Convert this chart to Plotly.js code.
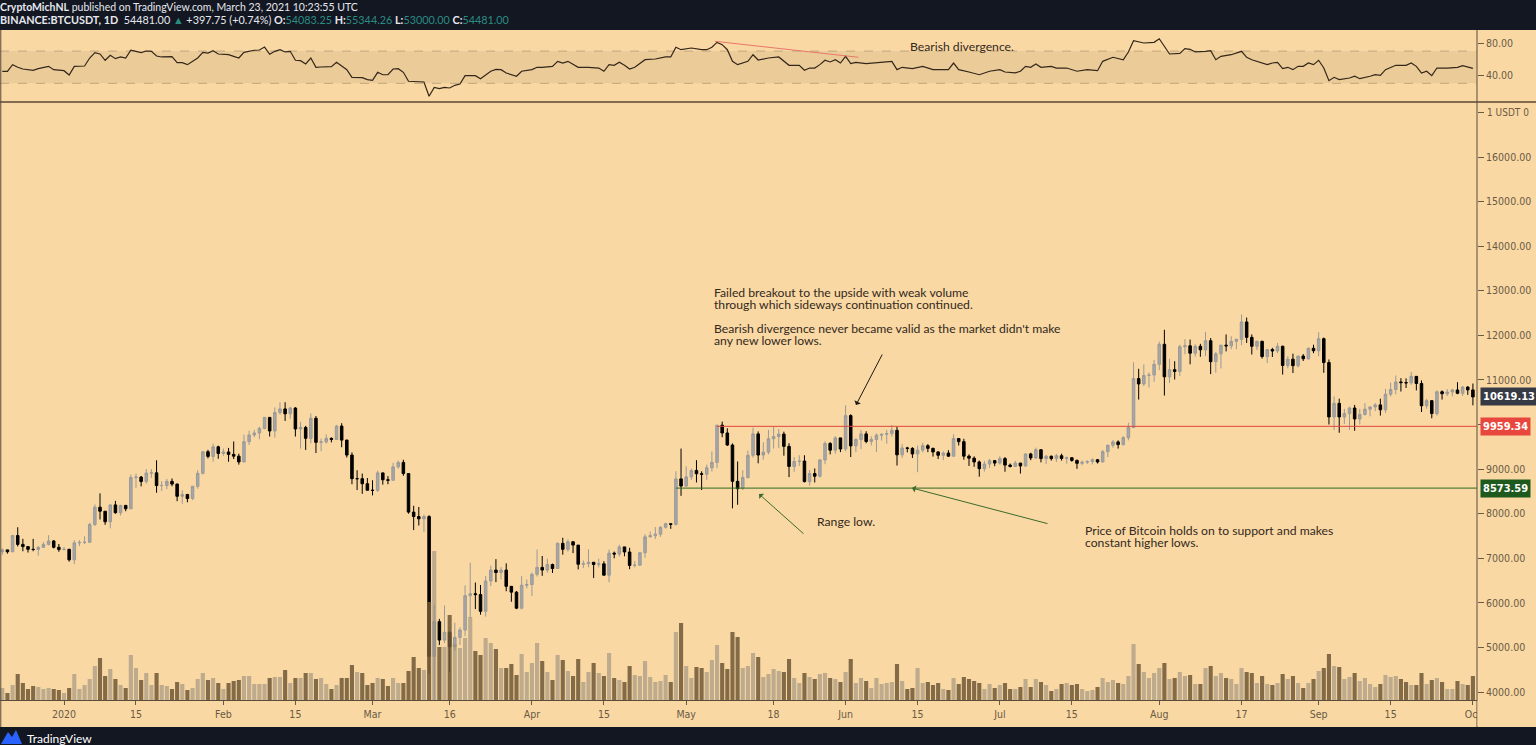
<!DOCTYPE html>
<html><head><meta charset="utf-8">
<script src="https://cdn.plot.ly/plotly-3.0.1.min.js"></script>
<style>html,body{margin:0;padding:0;background:#131722;overflow:hidden}#chart{width:1536px;height:745px}</style>
</head><body><div id="chart"></div>
<script>
// ---- Daily candles, BINANCE:BTCUSDT, rows are [open, high, low, close] ----
const dec2019 = [[7145,7220,7075,7188],[7188,7190,7105,7146],[7146,7518,7134,7510],[7510,7695,7265,7311],[7311,7436,7157,7262],[7262,7272,7128,7200],[7200,7435,7157,7197],[7197,7275,7057,7243],[7243,7365,7238,7310],[7310,7518,7288,7388],[7388,7409,7220,7246],[7246,7320,7145,7195]];
const jan2020 = [[7195,7255,7175,7200],[7200,7212,6925,6965],[6965,7406,6871,7345],[7345,7405,7273,7355],[7355,7495,7318,7358],[7358,7796,7346,7758],[7758,8208,7723,8145],[8145,8455,7870,8055],[8055,8055,7750,7818],[7818,8199,7672,8197],[8197,8287,8000,8021],[8021,8198,7960,8185],[8185,8197,8055,8110],[8110,8880,8105,8810],[8810,8900,8580,8821],[8821,8846,8612,8720],[8720,9000,8675,8913],[8913,9000,8805,8916],[8916,9198,8470,8630],[8630,8730,8510,8633],[8633,8780,8550,8725],[8725,8790,8615,8664],[8664,8674,8280,8390],[8390,8525,8220,8430],[8430,8444,8255,8340],[8340,8617,8305,8615],[8615,8975,8560,8905],[8905,9395,8880,9390],[9390,9432,9240,9285],[9285,9570,9165,9500],[9500,9525,9230,9350]];
const feb2020 = [[9350,9460,9300,9384],[9384,9475,9165,9330],[9330,9620,9225,9290],[9290,9345,9100,9160],[9160,9775,9155,9615],[9615,9860,9540,9765],[9765,9880,9715,9810],[9810,9950,9670,9910],[9910,10160,9895,10160],[10160,10165,9730,9855],[9855,10385,9705,10270],[10270,10495,10220,10350],[10350,10500,10080,10240],[10240,10395,10130,10370],[10370,10390,9730,9900],[9900,10060,9460,9935],[9935,9970,9430,9690],[9690,10250,9575,10140],[10140,10190,9360,9600],[9600,9685,9400,9610],[9610,9780,9570,9690],[9690,9710,9600,9665],[9665,9990,9660,9965],[9965,10030,9490,9650],[9650,9660,9260,9315],[9315,9375,8660,8785],[8785,8975,8530,8785],[8785,8900,8445,8672],[8672,8800,8525,8525]];
const mar2020 = [[8525,8750,8410,8523],[8523,8965,8490,8915],[8915,8920,8651,8760],[8760,8843,8660,8750],[8750,9142,8743,9050],[9050,9190,9008,9150],[9150,9210,8850,8900],[8900,8900,8000,8035],[8035,8178,7632,7935],[7935,8150,7735,7885],[7885,7980,7590,7935],[7935,7966,4410,4800],[4800,5955,3782,5578],[5578,5640,5055,5165],[5165,5940,5100,5340],[5340,5365,4442,5015],[5015,5555,4920,5225],[5225,5450,5055,5390],[5390,6390,5250,6160],[6160,6900,5670,6205],[6205,6455,5860,6185],[6185,6400,5735,5810],[5810,6600,5690,6490],[6490,6835,6375,6735],[6735,6980,6465,6680],[6680,6800,6525,6735],[6735,6885,6260,6370],[6370,6375,6025,6240],[6240,6265,5860,5880],[5880,6600,5855,6395],[6395,6525,6325,6410]];
const apr2020 = [[6410,6680,6155,6640],[6640,7195,6590,6795],[6795,7050,6605,6735],[6735,6990,6675,6860],[6860,6880,6670,6770],[6770,7355,6765,7335],[7335,7460,7080,7200],[7200,7425,7150,7370],[7370,7378,7115,7295],[7295,7295,6750,6865],[6865,6950,6780,6880],[6880,7200,6800,6910],[6910,6915,6555,6860],[6860,6990,6795,6875],[6875,6935,6620,6620],[6620,7195,6460,7115],[7115,7150,7000,7095],[7095,7305,7040,7255],[7255,7255,7045,7140],[7140,7235,6755,6840],[6840,6940,6795,6845],[6845,7145,6830,7125],[7125,7540,7010,7480],[7480,7600,7470,7505],[7505,7700,7430,7540],[7540,7720,7480,7695],[7695,7795,7665,7775],[7775,7780,7660,7760],[7760,8950,7735,8780],[8780,9460,8400,8620]];
const may2020 = [[8620,9060,8600,8825],[8825,9010,8760,8970],[8970,9200,8700,8895],[8895,8950,8530,8885],[8885,9100,8760,9030],[9030,9395,8945,9150],[9150,9990,9020,9985],[9985,10065,9715,9810],[9810,9915,9520,9540],[9540,9575,8120,8725],[8725,9170,8200,8560],[8560,8975,8535,8810],[8810,9415,8790,9310],[9310,9930,9255,9790],[9790,9845,9130,9315],[9315,9600,9210,9380],[9380,9880,9330,9680],[9680,9950,9460,9730],[9730,9900,9470,9785],[9785,9840,9300,9510],[9510,9580,8820,9060],[9060,9270,8940,9170],[9170,9310,9070,9180],[9180,9310,8700,8720],[8720,8980,8630,8900],[8900,9015,8700,8840],[8840,9225,8810,9205],[9205,9625,9110,9575],[9575,9605,9330,9425],[9425,9740,9345,9700],[9700,9700,9380,9450]];
const jun2020 = [[9450,10430,9400,10200],[10200,10230,9270,9520],[9520,9690,9380,9665],[9665,9880,9450,9790],[9790,9850,9580,9620],[9620,9735,9530,9665],[9665,9800,9380,9760],[9760,9800,9640,9780],[9780,9880,9570,9795],[9795,9990,9725,9870],[9870,9950,9080,9320],[9320,9560,9250,9475],[9475,9500,9375,9465],[9465,9490,9250,9340],[9340,9530,8930,9425],[9425,9590,9375,9525],[9525,9560,9380,9465],[9465,9480,9280,9385],[9385,9400,9225,9310],[9310,9400,9200,9360],[9360,9425,9275,9290],[9290,9780,9280,9685],[9685,9690,9530,9615],[9615,9680,9210,9290],[9290,9330,9070,9245],[9245,9285,9050,9160],[9160,9190,8830,9010],[9010,9185,8945,9115],[9115,9230,9025,9190],[9190,9205,9065,9135]];
const jul2020 = [[9135,9290,9100,9235],[9235,9270,8940,9090],[9090,9125,9035,9060],[9060,9185,9050,9135],[9135,9140,8900,9070],[9070,9350,9055,9340],[9340,9365,9200,9250],[9250,9480,9230,9435],[9435,9440,9150,9235],[9235,9315,9115,9290],[9290,9300,9190,9235],[9235,9340,9160,9300],[9300,9345,9190,9240],[9240,9280,9120,9255],[9255,9270,9165,9195],[9195,9215,9005,9130],[9130,9190,9085,9155],[9155,9200,9115,9170],[9170,9240,9105,9210],[9210,9225,9125,9160],[9160,9430,9150,9390],[9390,9550,9270,9535],[9535,9650,9480,9610],[9610,9645,9460,9550],[9550,9740,9530,9705],[9705,10040,9645,9935],[9935,11395,9920,11030],[11030,11250,10560,10910],[10910,11350,10860,11100],[11100,11170,10830,11110],[11110,11450,10960,11350]];
const aug2020 = [[11350,11860,11220,11800],[11800,12125,10650,11070],[11070,11475,10930,11230],[11230,11420,11010,11190],[11190,11790,11090,11745],[11745,11915,11575,11765],[11765,11905,11350,11600],[11600,11800,11520,11755],[11755,11810,11520,11675],[11675,12080,11535,11880],[11880,11940,11130,11410],[11410,11630,11165,11585],[11585,11780,11255,11780],[11780,12020,11640,11765],[11765,11980,11690,11865],[11865,11930,11690,11910],[11910,12470,11780,12300],[12300,12400,11830,11955],[11955,12020,11570,11755],[11755,11880,11670,11865],[11865,11880,11480,11525],[11525,11690,11380,11680],[11680,11720,11515,11650],[11650,11830,11600,11755],[11755,11770,11120,11325],[11325,11530,11260,11465],[11465,11590,11155,11320],[11320,11545,11280,11535],[11535,11580,11425,11475],[11475,11725,11455,11710],[11710,11790,11600,11655]];
const sep2020 = [[11655,12070,11530,11925],[11925,11950,11160,11390],[11390,11460,10000,10170],[10170,10630,9875,10475],[10475,10580,9815,10170],[10170,10350,10010,10245],[10245,10400,9880,10370],[10370,10440,9860,10125],[10125,10350,10000,10225],[10225,10480,10200,10345],[10345,10400,10185,10395],[10395,10480,10300,10440],[10440,10580,10200,10330],[10330,10800,10260,10680],[10680,10940,10630,10785],[10785,11100,10680,10955],[10955,11040,10740,10940],[10940,11035,10820,10935],[10935,11180,10890,11080],[11080,11080,10765,10920],[10920,10990,10280,10420],[10420,10575,10355,10535],[10535,10550,10140,10245],[10245,10770,10200,10735],[10735,10765,10560,10690],[10690,10795,10640,10730],[10730,10800,10630,10775],[10775,10950,10680,10700],[10700,10865,10640,10840],[10840,10860,10665,10776]];
const oct2020 = [[10776,10920,10430,10619]];

// ---- Volume (bar heights as read, relative units), one value per day, same order ----
const volDec2019 = [12,7,15,26,17,11,14,13,11,12,11,10];
const volJan2020 = [7,12,26,11,15,21,34,42,24,31,21,15,12,45,32,20,27,15,27,15,14,11,18,16,10,12,21,27,20,22,17];
const volFeb2020 = [11,17,19,20,24,24,16,16,16,22,23,23,30,17,22,22,27,27,21,22,16,11,15,22,22,35,28,27,15];
const volMar2020 = [17,22,21,14,22,17,17,29,43,32,30,98,149,53,53,85,56,52,62,83,49,45,62,57,51,32,32,36,25,46,28];
const volApr2020 = [37,57,39,28,20,45,40,29,24,41,18,28,37,27,24,47,22,20,18,34,25,24,39,23,18,19,25,18,68,77];
const volMay2020 = [34,22,33,32,28,40,55,37,31,68,63,32,34,47,43,23,26,31,29,28,41,22,17,27,23,21,26,27,22,21,18];
const volJun2020 = [28,41,17,22,19,12,22,16,17,18,36,19,11,12,32,17,18,15,17,11,10,22,16,23,21,19,17,11,16,12];
const volJul2020 = [15,17,11,11,13,21,13,21,18,15,9,11,16,17,15,16,11,9,10,13,22,18,20,17,16,24,56,36,28,22,27];
const volAug2020 = [32,37,21,22,28,24,25,16,16,32,34,24,27,22,21,16,32,28,27,17,24,16,15,17,26,21,24,17,12,17,21];
const volSep2020 = [29,32,46,34,33,21,23,27,19,22,16,13,16,25,23,24,21,18,15,15,27,16,20,22,18,11,11,19,16,15];
const volOct2020 = [24];

// ---- RSI readings: [day index from 2019-12-20, value] ----
const rsiReadings = [[0,44.9],[1,44.9],[2,53.2],[3,49.9],[4,47.8],[6,46.2],[7,48.2],[9,51.1],[10,47],[12,45.7],[13,40.4],[14,51.1],[16,51.5],[17,61.4],[18,68],[19,66.4],[20,58.6],[21,64.7],[22,60.6],[23,62.7],[24,61.4],[25,71],[26,69.7],[27,68],[28,70.1],[29,69.7],[30,63.9],[31,62.7],[33,63],[34,55.6],[35,55.6],[36,53.2],[38,61.4],[39,68.4],[40,67.6],[41,70.5],[42,66.4],[44,65.5],[45,63.5],[46,61.4],[47,68.4],[49,71],[50,71.3],[51,75],[52,66],[53,69.7],[54,71.7],[55,68.9],[56,69.7],[57,58.6],[58,58.1],[59,54],[60,61.4],[61,49.9],[62,50.3],[64,50.7],[65,56.1],[67,47],[68,37.5],[70,37],[71,34.6],[72,33.8],[73,43.7],[74,40.7],[75,40.7],[76,47.8],[77,48.2],[78,43.7],[79,32.6],[81,31.7],[82,31.7],[83,14],[84,25.1],[85,23.4],[86,25.1],[87,24.3],[88,27.6],[89,29.2],[90,39.5],[92,39.5],[93,35.8],[95,45],[96,47.4],[97,47],[98,42.8],[100,38.8],[101,45],[103,47],[104,49.9],[105,49.9],[107,51.1],[108,57.3],[109,55.2],[110,57.3],[112,49.9],[114,49.9],[116,49],[117,45],[118,53.2],[119,52.4],[120,56.1],[121,52.4],[122,47.8],[123,49.9],[125,59.3],[127,60.2],[129,62.7],[130,62.7],[131,74.7],[132,71.7],[134,73.8],[136,71.7],[137,71.7],[138,74.7],[139,80.8],[140,77.9],[141,71.7],[142,57.3],[143,53.2],[145,57.3],[146,65.5],[147,58.9],[149,61.4],[151,62.7],[152,57.3],[153,52.4],[155,52.4],[156,46.2],[157,49],[158,49],[159,53.2],[160,58.6],[161,56.5],[162,59.3],[163,55.2],[164,63.5],[165,54.4],[166,56.1],[168,54.4],[171,56.1],[173,57.3],[174,47],[175,49.9],[177,48.2],[179,51.1],[181,47],[184,47],[185,55.2],[186,47],[188,44.1],[190,40.7],[192,45],[193,45.7],[194,47],[195,44.1],[197,43],[198,45],[199,51.1],[200,49.9],[201,54],[202,49.9],[204,51.1],[205,49],[207,49],[209,45],[211,47],[213,45.7],[214,57.3],[216,62.3],[218,59.3],[219,68.9],[220,82.9],[222,80],[224,80.8],[225,85.3],[227,66.4],[229,67.2],[230,73],[231,72.2],[232,68.9],[234,69.7],[235,70.5],[236,59.3],[237,63.5],[239,65.5],[241,69.7],[242,62.3],[243,59.3],[246,53.2],[247,55.2],[248,56.1],[249,48.2],[250,49.9],[251,47],[252,51.1],[253,51.1],[254,55.2],[255,53.2],[256,58.6],[257,49],[258,33.3],[259,37.5],[260,34.6],[262,36.6],[263,38.8],[264,35.8],[266,38.8],[267,40.7],[268,39.9],[269,47],[271,52.4],[273,52.4],[274,55.2],[275,51.1],[276,42.8],[277,45],[278,39.5],[279,49],[281,49],[283,49.9],[284,51.9],[286,48.5]];

// ---- Levels, divergence and labels ----
const rangeHigh = 9959.34, rangeHighStartDay = 139;
const rangeLow = 8573.59, rangeLowStartDay = 131;
const lastPrice = 10619.13;
const divergence = [[138.6, 82.1],[166.5, 62.3]];
const xTickDates = ['2020-01-01','2020-01-15','2020-02-01','2020-02-15','2020-03-01','2020-03-16','2020-04-01','2020-04-15','2020-05-01','2020-05-18','2020-06-01','2020-06-15','2020-07-01','2020-07-15','2020-08-01','2020-08-17','2020-09-01','2020-09-15','2020-10-01'];
const xTickText = ['2020','15','Feb','15','Mar','16','Apr','15','May','18','Jun','15','Jul','15','Aug','17','Sep','15','Oct'];
const priceTicks = [4000,5000,6000,7000,8000,9000,10000,11000,12000,13000,14000,15000,16000,17000];
const hiddenPriceTicks = [10000, 17000];   // covered by labels in the reference
const rsiTicks = [40, 80];

// ---- build ----
const DAY = 86400000, T0 = Date.UTC(2019, 11, 20);
const dstr = f => new Date(T0 + f * DAY).toISOString().replace('T', ' ').slice(0, 19);
const rows = [].concat(dec2019, jan2020, feb2020, mar2020, apr2020, may2020, jun2020, jul2020, aug2020, sep2020, oct2020);
const vols = [].concat(volDec2019, volJan2020, volFeb2020, volMar2020, volApr2020, volMay2020, volJun2020, volJul2020, volAug2020, volSep2020, volOct2020);
const dates = rows.map((r, i) => dstr(i).slice(0, 10));

const W = 1536, H = 745, AX = 1477;
const px = x => x / W, py = y => 1 - y / H;
const xStart = dstr(-2.3 / 5.142), xEnd = dstr((AX - 2.3) / 5.142);

const BG = '#f9d8a3', TXT = '#34291d', AXT = '#6a5a45';
const FONT = 'Lato, "Open Sans", sans-serif';
const AXFONT = '"DejaVu Sans Condensed", "Liberation Sans Narrow", Lato, sans-serif';

const candles = {
  type: 'candlestick', x: dates,
  open: rows.map(r => r[0]), high: rows.map(r => r[1]), low: rows.map(r => r[2]), close: rows.map(r => r[3]),
  xaxis: 'x', yaxis: 'y', whiskerwidth: 0,
  increasing: {line: {color: '#9a9a9a', width: 1}, fillcolor: '#a6a6a6'},
  decreasing: {line: {color: '#000000', width: 1}, fillcolor: '#000000'},
  hoverinfo: 'skip'
};
const volume = {
  type: 'bar', x: dates, y: vols, xaxis: 'x', yaxis: 'y2',
  marker: {color: rows.map(r => r[3] >= r[0] ? 'rgba(150,140,125,0.6)' : 'rgba(110,88,55,0.85)'), line: {width: 0}},
  hoverinfo: 'skip'
};
const rsi = {
  type: 'scatter', mode: 'lines', x: rsiReadings.map(p => dstr(p[0])), y: rsiReadings.map(p => p[1]),
  xaxis: 'x', yaxis: 'y3', line: {color: '#33261a', width: 1.2}, hoverinfo: 'skip'
};

const shapes = [
  {type: 'rect', xref: 'paper', yref: 'paper', x0: 0, x1: 1, y0: py(727), y1: py(30), fillcolor: BG, line: {width: 0}, layer: 'below'},
  {type: 'rect', xref: 'paper', yref: 'y3', x0: 0, x1: px(AX), y0: 30, y1: 70, fillcolor: 'rgba(150,120,90,0.13)', line: {width: 0}, layer: 'below'},
  {type: 'line', xref: 'paper', yref: 'y3', x0: 0, x1: px(AX), y0: 70, y1: 70, line: {color: 'rgba(140,115,90,0.45)', width: 1, dash: 'dash'}, layer: 'below'},
  {type: 'line', xref: 'paper', yref: 'y3', x0: 0, x1: px(AX), y0: 30, y1: 30, line: {color: 'rgba(140,115,90,0.45)', width: 1, dash: 'dash'}, layer: 'below'},
  {type: 'line', xref: 'paper', yref: 'paper', x0: 0, x1: 1, y0: py(102), y1: py(102), line: {color: '#5a4732', width: 1.5}},
  {type: 'line', xref: 'paper', yref: 'paper', x0: px(AX), x1: px(AX), y0: py(727), y1: py(30), line: {color: '#5a4c3c', width: 1}},
  {type: 'line', xref: 'paper', yref: 'paper', x0: 0.0005, x1: 0.0005, y0: py(727), y1: py(30), line: {color: '#5a4c3c', width: 1}},
  {type: 'line', xref: 'x', yref: 'y3', x0: dstr(divergence[0][0]), y0: divergence[0][1], x1: dstr(divergence[1][0]), y1: divergence[1][1], line: {color: '#e8776a', width: 1}},
  {type: 'line', xref: 'x', yref: 'y', x0: dstr(rangeHighStartDay), x1: xEnd, y0: rangeHigh, y1: rangeHigh, line: {color: '#e0463c', width: 1}},
  {type: 'line', xref: 'x', yref: 'y', x0: dstr(rangeLowStartDay), x1: xEnd, y0: rangeLow, y1: rangeLow, line: {color: '#2f6b1f', width: 1}},
  {type: 'rect', xref: 'paper', yref: 'paper', x0: px(AX + 0.5), x1: 1, y0: py(726), y1: py(701), fillcolor: BG, line: {width: 0}, layer: 'above'},
  {type: 'path', xref: 'paper', yref: 'paper', fillcolor: '#2962ff', line: {width: 0},
   path: `M ${px(1)},${py(744)} L ${px(8)},${py(732)} L ${px(12)},${py(737)} L ${px(16)},${py(730)} L ${px(22)},${py(744)} Z`}
];

const ann = [];
const txt = (x, y, t, o = {}) => ann.push(Object.assign({xref: 'paper', yref: 'paper', x: px(x), y: py(y), text: t, showarrow: false, xanchor: 'left', yanchor: 'middle', font: {family: FONT, size: 12.2, color: TXT}}, o));
const TEAL = '#2b8c82';
txt(0, 7, '<b>CryptoMichNL</b> published on TradingView.com, March 23, 2021 10:23:55 UTC', {font: {family: FONT, size: 10.5, color: '#e6e8ee'}, xshift: -2});
txt(0, 19.5, `<b>BINANCE:BTCUSDT, 1D</b>  54481.00 <span style="color:${TEAL}">▲</span> +397.75 (+0.74%) <b>O:</b><span style="color:${TEAL}">54083.25</span> <b>H:</b><span style="color:${TEAL}">55344.26</span> <b>L:</b><span style="color:${TEAL}">53000.00</span> <b>C:</b><span style="color:${TEAL}">54481.00</span>`, {font: {family: FONT, size: 10.8, color: '#e6e8ee'}, xshift: -2});
txt(908, 47, 'Bearish divergence.');
txt(712, 292, 'Failed breakout to the upside with weak volume');
txt(712, 304, 'through which sideways continuation continued.');
txt(712, 328, "Bearish divergence never became valid as the market didn't make");
txt(712, 340, 'any new lower lows.');
txt(815, 521, 'Range low.');
txt(1083, 530, 'Price of Bitcoin holds on to support and makes');
txt(1083, 542, 'constant higher lows.');
txt(25, 738, 'TradingView', {font: {family: FONT, size: 12, color: '#ffffff'}});
// arrows
const arrow = (tipX, tipY, tailX, tailY, color) => ann.push({xref: 'paper', yref: 'paper', x: px(tipX), y: py(tipY), ax: tailX - tipX, ay: tailY - tipY, text: '', showarrow: true, arrowhead: 1, arrowsize: 1.2, arrowwidth: 1, arrowcolor: color});
arrow(856, 405, 883, 353, '#1e1a14');
arrow(759, 494, 805, 535, '#3c6a2a');
arrow(912, 488, 1049, 524, '#3c6a2a');
// price labels on axis
const plabel = (v, bg) => ann.push({xref: 'paper', yref: 'y', x: px(AX + 3), y: v, text: '<b>' + v.toFixed(2) + '</b>', showarrow: false, xanchor: 'left', yanchor: 'middle', bgcolor: bg, borderpad: 2, font: {family: AXFONT, size: 11, color: '#ffffff'}});
plabel(lastPrice, '#363a45');
plabel(rangeHigh, '#e8473d');
plabel(rangeLow, '#1e5a1e');
ann.push({xref: 'paper', yref: 'y', x: px(1485), y: 17000, xanchor: 'left', yanchor: 'middle', text: '1 USDT 0', showarrow: false, font: {family: AXFONT, size: 10, color: AXT}});

const layout = {
  width: W, height: H, margin: {l: 0, r: 0, t: 0, b: 0},
  paper_bgcolor: '#131722', plot_bgcolor: 'rgba(0,0,0,0)',
  showlegend: false, hovermode: false, dragmode: false, bargap: 0.2,
  xaxis: {domain: [0, px(AX)], anchor: 'y', type: 'date', range: [xStart, xEnd], rangeslider: {visible: false},
    tickmode: 'array', tickvals: xTickDates, ticktext: xTickText, ticks: 'outside', ticklen: 4, tickcolor: AXT,
    tickfont: {family: AXFONT, size: 10.5, color: AXT}, showgrid: false, zeroline: false,
    showline: true, linecolor: '#5a4c3c', linewidth: 1, fixedrange: true},
  yaxis: {domain: [py(700), py(103)], anchor: 'x', range: [3820.5, 17212], side: 'right',
    tickmode: 'array', tickvals: priceTicks, ticktext: priceTicks.map(v => hiddenPriceTicks.includes(v) ? '' : v.toFixed(2)), ticks: 'outside', ticklen: 6, tickcolor: AXT,
    tickfont: {family: AXFONT, size: 10.5, color: AXT}, showgrid: false, zeroline: false, showline: false, fixedrange: true},
  yaxis2: {overlaying: 'y', range: [0, 597], visible: false, fixedrange: true},
  yaxis3: {domain: [py(101), py(31)], anchor: 'x', range: [8.17, 94.86], side: 'right',
    tickmode: 'array', tickvals: rsiTicks, ticktext: rsiTicks.map(v => v.toFixed(2)), ticks: 'outside', ticklen: 6, tickcolor: AXT,
    tickfont: {family: AXFONT, size: 10.5, color: AXT}, showgrid: false, zeroline: false, showline: false, fixedrange: true},
  shapes: shapes, annotations: ann
};

Plotly.newPlot('chart', [candles, volume, rsi], layout, {displayModeBar: false, staticPlot: true});
</script></body></html>
